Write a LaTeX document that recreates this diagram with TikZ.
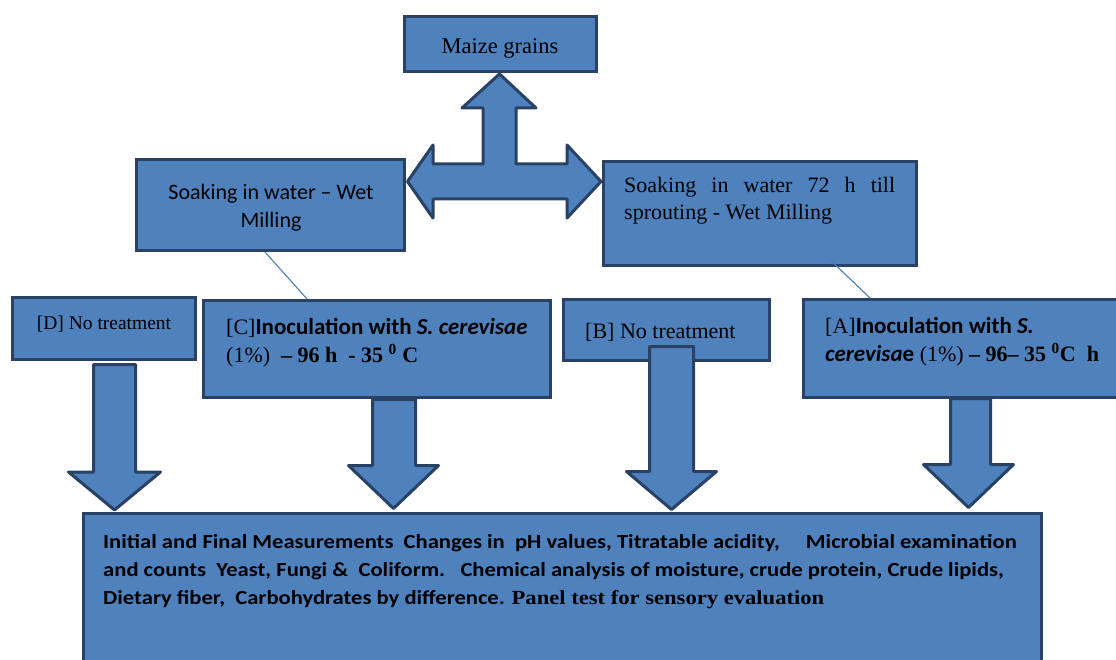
\documentclass[tikz,border=0pt]{standalone}
\usepackage{fontspec}
\setmainfont{Liberation Serif}
\newfontfamily\calfont{Carlito}
\newfontfamily\calwide[FakeStretch=1.13]{Carlito}
\newfontfamily\serwide[FakeStretch=1.13]{Liberation Serif}
\definecolor{fillb}{RGB}{79,129,189}
\definecolor{edgeb}{RGB}{40,65,100}
\definecolor{lineb}{RGB}{74,126,187}
\begin{document}
\begin{tikzpicture}[x=1pt,y=-1pt,
  box/.style={draw=edgeb, fill=fillb, line width=3pt, inner sep=0pt, anchor=north west},
  barrow/.style={draw=edgeb, fill=fillb, line width=3pt, line join=round},
  txt/.style={inner sep=0pt, text=black},
  conn/.style={draw=lineb, line width=1.1pt}]
\useasboundingbox (0,0) rectangle (1116,660);
\clip (0,0) rectangle (1116,660);

% boxes
\node[box, minimum width=192pt, minimum height=55pt] (maize) at (403,15) {};
\node[box, minimum width=268pt, minimum height=91pt] (ls) at (135,158) {};
\node[box, minimum width=313pt, minimum height=104pt] (rs) at (602,160) {};
\node[box, minimum width=183pt, minimum height=62pt] (d) at (11,296) {};
\node[box, minimum width=347pt, minimum height=97pt] (c) at (202,299) {};
\node[box, minimum width=206pt, minimum height=61pt] (b) at (562,298) {};
\node[box, minimum width=330pt, minimum height=98pt] (a) at (802,298) {};
\node[box, minimum width=958pt, minimum height=170pt] (res) at (82,512) {};

% three-way block arrow
\draw[barrow] (499.5,74) -- (536,108) -- (516,108) -- (516,164) -- (567,164) -- (567,145)
  -- (601,181.5) -- (567,218) -- (567,199) -- (433,199) -- (433,218) -- (407.5,181.5)
  -- (433,145) -- (433,164) -- (483,164) -- (483,108) -- (462,108) -- cycle;

% down block arrows
\draw[barrow] (93.5,364.5) -- (135.5,364.5) -- (135.5,472) -- (160.5,472) -- (114.5,510)
  -- (68.5,472) -- (93.5,472) -- cycle;
\draw[barrow] (372.5,399.5) -- (415.5,399.5) -- (415.5,465.5) -- (438.5,465.5) -- (393.5,508.5)
  -- (348.5,465.5) -- (372.5,465.5) -- cycle;
\draw[barrow] (649.5,346.5) -- (693.5,346.5) -- (693.5,471.5) -- (716.5,471.5) -- (671.5,509.5)
  -- (626.5,471.5) -- (649.5,471.5) -- cycle;
\draw[barrow] (950.5,398.5) -- (990.5,398.5) -- (990.5,464.5) -- (1013.5,464.5) -- (968.5,507.5)
  -- (923.5,464.5) -- (950.5,464.5) -- cycle;

% texts
\node[txt, font=\fontsize{22.5}{26}\selectfont] (tmaize) at (500,48) {Maize grains};
\node[txt, font=\calfont\fontsize{22}{28}\selectfont, align=center, anchor=north] (tls) at (271,184)
  {Soaking in water – Wet\\Milling};
\node[txt, font=\fontsize{22}{27}\selectfont, text width=271pt, align=justify, anchor=north west] (trs) at (624,177)
  {Soaking in water 72 h till\linebreak sprouting - Wet Milling};
\node[txt, font=\fontsize{19.5}{24}\selectfont] (td) at (104,324) {[D] No treatment};
\node[txt, font=\fontsize{22}{26}\selectfont, anchor=west] (tb) at (585,332) {[B] No treatment};
\node[txt, font=\fontsize{22}{28}\selectfont, align=left, anchor=north west] (tc) at (226,318)
  {[C]{\calfont\bfseries\fontsize{23}{28}\selectfont Inoculation with \textit{S. cerevisae}}\\(1\%)\ \ {\bfseries – 96 h\ \ - 35 \textsuperscript{0} C}};
\node[txt, font=\fontsize{22}{28}\selectfont, align=left, anchor=north west] (ta) at (825,317)
  {[A]{\calfont\bfseries\fontsize{23}{28}\selectfont Inoculation with \textit{S.}}\\{\calfont\bfseries\fontsize{23}{28}\selectfont\textit{cerevisa}e} (1\%) {\bfseries – 96– 35 \textsuperscript{0}C\ \ h}};
\node[txt, font=\calwide\bfseries\fontsize{20}{28}\selectfont, align=left, anchor=north west] (tres) at (103,534)
  {Initial and Final Measurements\ \ Changes in\ \ pH values, Titratable acidity,\hspace{26pt}Microbial examination\\and counts\ \ Yeast, Fungi \&\ \ Coliform.\ \ \ Chemical analysis of moisture, crude protein, Crude lipids,\\Dietary fiber,\ \ Carbohydrates by difference. {\serwide\bfseries Panel test for sensory evaluation}};

% connectors
\draw[conn] ([xshift=130pt]ls.south west) -- ([xshift=105pt]c.north west);
\draw[conn] ([xshift=223pt,yshift=12pt]rs.south west) -- ([xshift=68pt]a.north west);
\end{tikzpicture}
\end{document}
